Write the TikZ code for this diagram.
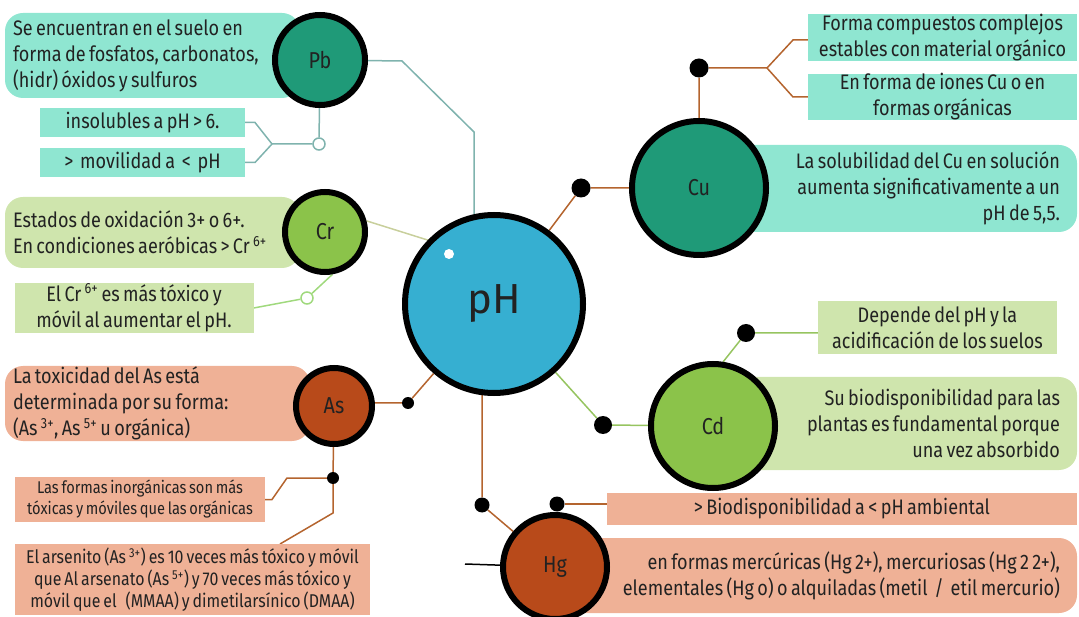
\documentclass[tikz,border=0pt]{standalone}
\usepackage{fontspec}
\setmainfont{Fira Sans}[FakeStretch=0.86, WordSpace=0.7]
\newfontfamily\phfont{Fira Sans}
\usetikzlibrary{calc}
\pgfdeclarelayer{bg}
\pgfsetlayers{bg,main}
\definecolor{mint}{RGB}{143,230,209}
\definecolor{lgreen}{RGB}{207,229,173}
\definecolor{salmon}{RGB}{239,177,150}
\definecolor{tealc}{RGB}{31,154,120}
\definecolor{greenc}{RGB}{139,195,74}
\definecolor{rustc}{RGB}{184,74,26}
\definecolor{bluec}{RGB}{54,175,209}
\definecolor{tealln}{RGB}{127,179,174}
\definecolor{brownln}{RGB}{180,100,46}
\definecolor{greenln}{RGB}{150,196,96}
\definecolor{beigeln}{RGB}{200,207,156}
\definecolor{txtc}{RGB}{34,34,34}
\begin{document}
\begin{tikzpicture}[x=1pt,y=-1pt,
  txt/.style={font=\fontsize{21}{26}\selectfont, text=txtc},
  rbox/.style={rounded corners=18pt, inner ysep=0pt, txt},
  sbox/.style={inner sep=0pt, txt, align=center},
  circ/.style={circle, draw=black, line width=6pt, inner sep=0pt, font=\fontsize{23}{26}\selectfont, text=txtc},
  dotn/.style={circle, fill=black, inner sep=0pt, minimum size=#1},
  dotn/.default=18pt,
  ocirc/.style={circle, draw=#1, fill=white, line width=1.5pt, inner sep=0pt, minimum size=12pt},
  ln/.style={draw=#1, line width=1.5pt}
]
\useasboundingbox (0,0) rectangle (1079,617);

% ---------- boxes ----------
\node[rbox, fill=mint, text width=279pt, inner xsep=8pt, minimum height=85pt, align=flush left] (pbt) at (152.5,55.5)
  {Se encuentran en el suelo en\\forma de fosfatos, carbonatos,\\(hidr) óxidos y sulfuros};
\node[sbox, fill=mint, minimum width=205pt, minimum height=29pt] (pb1) at (142.5,122.5) {insolubles a pH > 6.};
\node[sbox, fill=mint, minimum width=205pt, minimum height=29pt] (pb2) at (142.5,162.5) {> \ movilidad a \ < \ pH};

\node[rbox, fill=lgreen, text width=279pt, inner xsep=8pt, minimum height=71pt, align=flush left] (crt) at (152.5,232.5)
  {Estados de oxidación 3+ o 6+.\\En condiciones aeróbicas > Cr \textsuperscript{6+}};
\node[sbox, fill=lgreen, minimum width=239pt, minimum height=50pt] (cr2) at (134,308)
  {El Cr \textsuperscript{6+} es más tóxico y\\móvil al aumentar el pH.};

\node[rbox, fill=salmon, text width=289pt, inner xsep=8pt, minimum height=75pt, align=flush left] (ast) at (157.5,403.5)
  {La toxicidad del As está\\determinada por su forma:\\(As \textsuperscript{3+}, As \textsuperscript{5+} u orgánica)};
\node[sbox, fill=salmon, minimum width=250pt, minimum height=45pt, font=\fontsize{17}{21}\selectfont] (as2) at (140,499.5)
  {Las formas inorgánicas son más\\tóxicas y móviles que las orgánicas};
\node[sbox, fill=salmon, minimum width=355pt, minimum height=71pt, font=\fontsize{18.5}{22}\selectfont] (as3) at (192.5,579.5)
  {El arsenito (As \textsuperscript{3+}) es 10 veces más tóxico y móvil\\que Al arsenato (As \textsuperscript{5+}) y 70 veces más tóxico y\\móvil que el \ \ (MMAA) y dimetilarsínico (DMAA)};

\node[sbox, fill=mint, minimum width=269pt, minimum height=47pt] (cu1) at (942.5,37.5)
  {Forma compuestos complejos\\estables con material orgánico};
\node[sbox, fill=mint, minimum width=269pt, minimum height=44pt] (cu2) at (942.5,97)
  {En forma de iones Cu o en\\formas orgánicas};
\node[rbox, fill=mint, text width=353pt, inner xsep=17pt, minimum height=87pt, align=flush right] (cut) at (883.5,188.5)
  {La solubilidad del Cu en solución\\aumenta significativamente a un\\pH de 5,5.};

\node[sbox, fill=lgreen, minimum width=239pt, minimum height=53pt] (cd1) at (937.5,327.5)
  {Depende del pH y la\\acidificación de los suelos};
\node[rbox, fill=lgreen, text width=338pt, inner xsep=17pt, minimum height=93pt, align=flush right] (cdt) at (891,423.5)
  {Su biodisponibilidad para las\\plantas es fundamental porque\\una vez absorbido};

\node[sbox, fill=salmon, minimum width=470pt, minimum height=32pt] (hg1) at (842,509)
  {> Biodisponibilidad a < pH ambiental};
\node[rbox, fill=salmon, text width=487pt, inner xsep=17pt, minimum height=75pt, align=flush right] (hgt) at (816.5,575.5)
  {en formas mercúricas (Hg 2+), mercuriosas (Hg 2 2+),\\elementales (Hg o) o alquiladas (metil \,/\, etil mercurio)};

% ---------- circles ----------
\node[circ, fill=tealc, minimum size=90pt] (Pb) at (320,60) {Pb};
\node[circ, fill=greenc, minimum size=80pt] (Cr) at (325,232) {Cr};
\node[circ, fill=rustc, minimum size=76pt] (As) at (334,406) {As};
\node[circ, fill=bluec, minimum size=178pt, font=\phfont\fontsize{42}{44}\selectfont] (pH) at (494,304) {pH};
\node[circle, fill=white, minimum size=10pt, inner sep=0pt] (phw) at (449,254) {};
\node[circ, fill=tealc, minimum size=134pt] (Cu) at (699,188) {Cu};
\node[circ, fill=greenc, minimum size=124pt] (Cd) at (713,426) {Cd};
\node[circ, fill=rustc, minimum size=104pt] (Hg) at (555,567) {Hg};

% ---------- dots ----------
\node[dotn=19pt] (cud) at (581,188) {};
\node[dotn=19pt] (cud2) at (699,68) {};
\node[dotn=18pt] (cdd) at (603,425) {};
\node[dotn=18pt] (cdd2) at (746,333) {};
\node[dotn=15pt] (hgd) at (482,505) {};
\node[dotn=15pt] (hgd2) at (557,504) {};
\node[dotn=12pt] (asd) at (408,403) {};
\node[dotn=12pt] (asd2) at (333,478) {};
\node[ocirc=tealln] (pbo) at (319,144) {};
\node[ocirc=beigeln!80!green] (cro) at (307,298) {};

% ---------- bend points ----------
\coordinate (pbk1) at (402,61);
\coordinate (pbk2) at (474,132);
\coordinate (pbf) at (272,144);
\coordinate (pbu) at (255,122.5);
\coordinate (pbd) at (255,162.5);
\coordinate (asa) at (287,478);
\coordinate (asb) at (272,499.5);
\coordinate (asc) at (333,513);
\coordinate (as3t) at (280,544);
\coordinate (cuf) at (767,68);
\coordinate (cuu) at (793,40);
\coordinate (cudn) at (793,97);
\coordinate (hgl) at (465,564);

% ---------- connectors ----------
\begin{pgfonlayer}{bg}
\draw[ln=tealln] (Pb) -- (pbk1) -- (pbk2) -- (pbk2 |- pH);
\draw[ln=tealln] (Pb) -- (pbo);
\draw[ln=tealln] (pbo) -- (pbf) -- (pbu) -- (pb1.east);
\draw[ln=tealln] (pbf) -- (pbd) -- (pb2.east);
\draw[ln=beigeln] (Cr.15) -- (pH.136);
\draw[ln=beigeln!80!green] (cro) -- (Cr.280);
\draw[ln=beigeln!80!green] (cro) -- (cr2.east);
\draw[ln=brownln] (pH) -- (asd) -- (asd -| As);
\draw[ln=brownln] (As) -- (asd2) -- (asa) -- (asb) -- (as2.east);
\draw[ln=brownln] (asd2) -- (asc) -- (as3t);
\draw[ln=brownln] (pH) -- (cud) -- (Cu);
\draw[ln=brownln] (Cu) -- (cud2) -- (cuf) -- (cuu) -- (cuu -| cu1.west);
\draw[ln=brownln] (cuf) -- (cudn) -- (cudn -| cu2.west);
\draw[ln=greenln] (pH) -- (cdd) -- (Cd);
\draw[ln=greenln] (Cd.81) -- (cdd2) -- (cdd2 -| cd1.west);
\draw[ln=brownln] (hgd |- pH) -- (hgd) -- (Hg);
\draw[ln=brownln] (hgd2) -- (hgd2 -| hg1.west);
\draw[ln=black] (hgl) -- (Hg);
\end{pgfonlayer}
\end{tikzpicture}
\end{document}
